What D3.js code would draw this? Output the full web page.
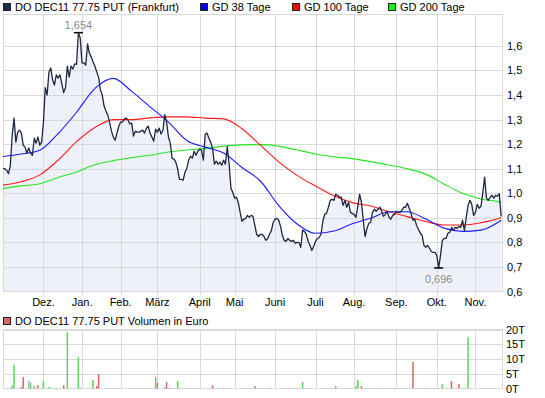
<html>
<head>
<script src="https://cdn.jsdelivr.net/npm/d3@7"></script>
<style>
  body { margin: 0; background: #fff; }
  text { font-family: "Liberation Sans", Arial, sans-serif; font-size: 11px; fill: #000; }
</style>
<script>

// exchange holidays (no trading) inside the shown period
const holidays = ["2010-12-24", "2010-12-31", "2011-04-22", "2011-04-25"];
const firstDay = "2010-11-01";
const lastDay = "2011-11-22";

const monthLabels = ["Dez.", "Jan.", "Feb.", "März", "April", "Mai", "Juni", "Juli", "Aug.", "Sep.", "Okt.", "Nov."];

// daily closes, one per trading day starting 2010-11-01
const closes = [
  1.10, 1.10, 1.094, 1.08, 1.114, 1.237, 1.306, 1.208, 1.249, 1.257,
  1.245, 1.196, 1.188, 1.163, 1.184, 1.163, 1.155, 1.224, 1.204, 1.229,
  1.196, 1.208, 1.29, 1.43, 1.40, 1.494, 1.51, 1.461, 1.441, 1.482,
  1.469, 1.482, 1.445, 1.41, 1.43, 1.518, 1.473, 1.518, 1.506, 1.527,
  1.525, 1.654, 1.633, 1.531, 1.531, 1.522, 1.608, 1.571, 1.555, 1.535,
  1.518, 1.494, 1.473, 1.42, 1.40, 1.355, 1.335, 1.318, 1.29, 1.253,
  1.229, 1.216, 1.245, 1.273, 1.29, 1.29, 1.302, 1.306, 1.298, 1.282,
  1.286, 1.233, 1.253, 1.249, 1.249, 1.253, 1.257, 1.245, 1.265, 1.273,
  1.245, 1.229, 1.212, 1.261, 1.249, 1.265, 1.241, 1.257, 1.32, 1.29,
  1.229, 1.204, 1.143, 1.139, 1.127, 1.10, 1.057, 1.057, 1.053, 1.086,
  1.102, 1.135, 1.151, 1.143, 1.171, 1.155, 1.171, 1.18, 1.176, 1.135,
  1.24, 1.245, 1.224, 1.208, 1.184, 1.118, 1.131, 1.118, 1.127, 1.114,
  1.135, 1.118, 1.19, 1.12, 1.02, 1.004, 0.98, 0.984, 0.963, 0.922,
  0.886, 0.894, 0.898, 0.91, 0.902, 0.91, 0.906, 0.869, 0.833, 0.824,
  0.833, 0.833, 0.824, 0.808, 0.816, 0.833, 0.849, 0.882, 0.894, 0.898,
  0.89, 0.865, 0.829, 0.808, 0.804, 0.816, 0.808, 0.804, 0.808, 0.796,
  0.80, 0.80, 0.78, 0.85, 0.845, 0.833, 0.804, 0.788, 0.767, 0.784,
  0.804, 0.816, 0.82, 0.833, 0.886, 0.914, 0.918, 0.943, 0.971, 0.976,
  0.971, 0.996, 0.992, 0.984, 0.984, 0.951, 0.971, 0.943, 0.963, 0.922,
  0.918, 0.914, 0.902, 0.947, 0.996, 0.963, 0.89, 0.824, 0.857, 0.878,
  0.882, 0.922, 0.935, 0.927, 0.935, 0.943, 0.927, 0.906, 0.914, 0.927,
  0.902, 0.894, 0.91, 0.914, 0.927, 0.922, 0.922, 0.931, 0.943, 0.943,
  0.959, 0.939, 0.918, 0.89, 0.894, 0.869, 0.853, 0.837, 0.829, 0.788,
  0.78, 0.788, 0.776, 0.763, 0.759, 0.759, 0.747, 0.696, 0.747, 0.808,
  0.816, 0.816, 0.837, 0.841, 0.861, 0.849, 0.861, 0.857, 0.865, 0.861,
  0.89, 0.849, 0.902, 0.951, 0.971, 0.955, 0.91, 0.922, 0.955, 0.939,
  0.947, 1.0, 1.066, 0.98, 0.971, 0.984, 0.992, 0.98, 0.992, 0.988,
  0.998, 0.906
];

// moving averages, read every 10 trading days
const gd38 = [
  ["2010-11-01", 1.15], ["2010-11-15", 1.16], ["2010-11-29", 1.175], ["2010-12-13", 1.243],
  ["2010-12-28", 1.33], ["2011-01-12", 1.427], ["2011-01-26", 1.468], ["2011-02-09", 1.415],
  ["2011-02-23", 1.352], ["2011-03-09", 1.29], ["2011-03-23", 1.215], ["2011-04-06", 1.188],
  ["2011-04-20", 1.164], ["2011-05-06", 1.105], ["2011-05-20", 1.05], ["2011-06-03", 0.95],
  ["2011-06-17", 0.875], ["2011-07-01", 0.837], ["2011-07-15", 0.846], ["2011-07-29", 0.876],
  ["2011-08-12", 0.898], ["2011-08-26", 0.925], ["2011-09-09", 0.925], ["2011-09-23", 0.895],
  ["2011-10-07", 0.858], ["2011-10-21", 0.845], ["2011-11-04", 0.85], ["2011-11-18", 0.885],
  ["2011-11-21", 0.89]
];
const gd100 = [
  ["2010-11-01", 1.033], ["2010-11-15", 1.047], ["2010-11-29", 1.075], ["2010-12-13", 1.135],
  ["2010-12-28", 1.21], ["2011-01-12", 1.268], ["2011-01-26", 1.30], ["2011-02-09", 1.30],
  ["2011-02-23", 1.307], ["2011-03-09", 1.311], ["2011-03-23", 1.311], ["2011-04-06", 1.306],
  ["2011-04-20", 1.303], ["2011-05-06", 1.263], ["2011-05-20", 1.196], ["2011-06-03", 1.128],
  ["2011-06-17", 1.073], ["2011-07-01", 1.03], ["2011-07-15", 0.99], ["2011-07-29", 0.962],
  ["2011-08-12", 0.948], ["2011-08-26", 0.925], ["2011-09-09", 0.905], ["2011-09-23", 0.885],
  ["2011-10-07", 0.871], ["2011-10-21", 0.871], ["2011-11-04", 0.88], ["2011-11-18", 0.898],
  ["2011-11-21", 0.901]
];
const gd200 = [
  ["2010-11-01", 1.019], ["2010-11-15", 1.03], ["2010-11-29", 1.039], ["2010-12-13", 1.064],
  ["2010-12-28", 1.087], ["2011-01-12", 1.116], ["2011-01-26", 1.133], ["2011-02-09", 1.145],
  ["2011-02-23", 1.155], ["2011-03-09", 1.168], ["2011-03-23", 1.176], ["2011-04-06", 1.183],
  ["2011-04-20", 1.192], ["2011-05-06", 1.197], ["2011-05-20", 1.198], ["2011-06-03", 1.192],
  ["2011-06-17", 1.176], ["2011-07-01", 1.16], ["2011-07-15", 1.149], ["2011-07-29", 1.141],
  ["2011-08-12", 1.129], ["2011-08-26", 1.115], ["2011-09-09", 1.10], ["2011-09-23", 1.078],
  ["2011-10-07", 1.037], ["2011-10-21", 1.0], ["2011-11-04", 0.977], ["2011-11-18", 0.965],
  ["2011-11-21", 0.963]
];

// volume in thousand euro
const volDates = [
  "2010-11-08", "2010-11-09", "2010-11-15", "2010-11-16", "2010-11-19", "2010-11-22", "2010-11-24",
  "2010-11-26", "2010-12-01", "2010-12-06", "2010-12-10", "2010-12-16", "2010-12-20", "2010-12-29",
  "2010-12-30", "2011-01-11", "2011-01-13", "2011-01-14", "2011-02-28", "2011-03-01", "2011-03-07",
  "2011-03-08", "2011-03-10", "2011-03-16", "2011-04-12", "2011-05-17", "2011-05-30", "2011-06-22",
  "2011-07-18", "2011-08-02", "2011-08-03", "2011-08-05", "2011-08-22", "2011-08-31", "2011-09-14",
  "2011-09-23", "2011-09-30", "2011-10-06", "2011-10-13", "2011-10-19", "2011-10-26"
];
const volAmounts = [
  1.0, 8.0, 0.5, 3.9, 2.7, 2.0, 0.8,
  1.1, 2.5, 0.5, 0.2, 1.1, 19.0, 10.7,
  0.3, 2.9, 0.8, 4.9, 3.9, 2.0, 0.5,
  2.2, 0.2, 2.5, 1.1, 0.8, 0.2, 2.2,
  0.8, 0.8, 2.9, 0.8, 0.2, 0.2, 9.0,
  0.2, 0.2, 1.5, 2.5, 1.5, 17.4
];
const volMoves = [
  "up", "up", "down", "down", "flat", "up", "up",
  "down", "up", "up", "up", "down", "up", "up",
  "down", "up", "down", "down", "up", "down", "up",
  "down", "down", "up", "down", "down", "up", "up",
  "up", "up", "up", "down", "up", "up", "down",
  "up", "up", "up", "down", "down", "up"
];

const priceTicks = [0.6, 0.7, 0.8, 0.9, 1.0, 1.1, 1.2, 1.3, 1.4, 1.5, 1.6];
const volTicks = [0, 5, 10, 15, 20];

const moveColor = {up: "#5fd35f", down: "#e06464", flat: "#b4b4c8"};
const gridColor = "#d9d9d9";

function deNum(v, digits) {
  return d3.format("." + digits + "f")(v).replace(".", ",");
}

function start() {
  const fmt = d3.timeFormat("%Y-%m-%d");
  const parse = d3.timeParse("%Y-%m-%d");
  const days = d3.timeDay.range(parse(firstDay), d3.timeDay.offset(parse(lastDay), 1))
      .filter(d => d.getDay() !== 0 && d.getDay() !== 6 && !holidays.includes(fmt(d)))
      .map(fmt);
  const dayIndex = new Map(days.map((d, i) => [d, i]));

  const svg = d3.select('body').append('svg')
      .attr('width', 545).attr('height', 398);

  const x = d3.scaleLinear().domain([0, days.length - 1]).range([3, 503]);
  const y = d3.scaleLinear().domain([0.6, 1.728]).range([291.5, 14.5]);
  const yv = d3.scaleLinear().domain([0, 20]).range([388.5, 329.5]);

  // month starts
  const monthIdx = [];
  days.forEach((d, i) => {
    if (i > 0 && d.slice(5, 7) !== days[i - 1].slice(5, 7)) monthIdx.push(i);
  });
  const px = i => Math.round(x(i)) + 0.5;

  // ---- price panel ----
  const price = svg.append('g');
  const closeData = closes.map((v, i) => [i, v]);

  price.append('path')
      .datum(closeData)
      .attr('fill', '#eef1fa')
      .attr('d', d3.area().x(d => x(d[0])).y0(y(0.6)).y1(d => y(d[1])));

  price.selectAll('.hgrid').data(priceTicks.slice(1)).enter().append('line')
      .attr('x1', 3).attr('x2', 503)
      .attr('y1', d => Math.round(y(d)) + 0.5).attr('y2', d => Math.round(y(d)) + 0.5)
      .attr('stroke', gridColor);
  price.selectAll('.vgrid').data(monthIdx).enter().append('line')
      .attr('x1', px).attr('x2', px)
      .attr('y1', 14.5).attr('y2', 295)
      .attr('stroke', gridColor);
  price.append('rect')
      .attr('x', 3.5).attr('y', 14.5).attr('width', 499).attr('height', 277)
      .attr('fill', 'none').attr('stroke', gridColor);

  const maLine = d3.line()
      .x(d => x(dayIndex.get(d[0])))
      .y(d => y(d[1]))
      .curve(d3.curveMonotoneX);
  [[gd200, '#22e622'], [gd100, '#ff1a1a'], [gd38, '#1a1aff']].forEach(([s, c]) => {
    price.append('path').datum(s)
        .attr('fill', 'none').attr('stroke', c).attr('stroke-width', 1.1)
        .attr('d', maLine);
  });

  price.append('path')
      .datum(closeData)
      .attr('fill', 'none')
      .attr('stroke', '#1c2742')
      .attr('stroke-width', 1.3)
      .attr('stroke-linejoin', 'round')
      .attr('d', d3.line().x(d => x(d[0])).y(d => y(d[1])));

  // max / min markers
  const maxI = d3.maxIndex(closes), minI = d3.minIndex(closes);
  price.append('line')
      .attr('x1', x(maxI) - 4.5).attr('x2', x(maxI) + 4.5)
      .attr('y1', y(closes[maxI])).attr('y2', y(closes[maxI]))
      .attr('stroke', '#000').attr('stroke-width', 1.5);
  price.append('text')
      .attr('x', x(maxI)).attr('y', y(closes[maxI]) - 3.5)
      .attr('text-anchor', 'middle').style('fill', '#8a8a8a')
      .text(deNum(closes[maxI], 3));
  price.append('line')
      .attr('x1', x(minI) - 4.5).attr('x2', x(minI) + 4.5)
      .attr('y1', y(closes[minI])).attr('y2', y(closes[minI]))
      .attr('stroke', '#000').attr('stroke-width', 1.5);
  price.append('rect')
      .attr('x', x(minI) - 16).attr('y', y(closes[minI]) + 6)
      .attr('width', 32).attr('height', 10)
      .attr('fill', '#f2f2f2');
  price.append('text')
      .attr('x', x(minI)).attr('y', y(closes[minI]) + 15)
      .attr('text-anchor', 'middle').style('fill', '#8a8a8a')
      .text(deNum(closes[minI], 3));

  price.selectAll('.ylab').data(priceTicks).enter().append('text')
      .attr('x', 507).attr('y', d => y(d) + 4)
      .text(d => deNum(d, 1));
  price.selectAll('.xlab').data(monthIdx).enter().append('text')
      .attr('x', d => x(d)).attr('y', 306)
      .attr('text-anchor', 'middle')
      .text((d, i) => monthLabels[i]);

  // legend
  const legend = [
    ["DO DEC11 77.75 PUT (Frankfurt)", '#1c2a52', 3],
    ["GD 38 Tage", '#0000ff', 200],
    ["GD 100 Tage", '#ff0000', 292],
    ["GD 200 Tage", '#00ff00', 388]
  ];
  legend.forEach(([t, c, lx]) => {
    svg.append('rect').attr('x', lx + 0.5).attr('y', 3.5).attr('width', 7).attr('height', 7)
        .attr('fill', c).attr('stroke', '#222');
    svg.append('text').attr('x', lx + 12).attr('y', 11).text(t);
  });

  // ---- volume panel ----
  const vol = svg.append('g');
  svg.append('rect').attr('x', 3.5).attr('y', 317.5).attr('width', 7).attr('height', 7)
      .attr('fill', '#e06464').attr('stroke', '#222');
  svg.append('text').attr('x', 15).attr('y', 325).text("DO DEC11 77.75 PUT Volumen in Euro");

  vol.selectAll('.hgrid').data(volTicks.slice(1)).enter().append('line')
      .attr('x1', 3).attr('x2', 503)
      .attr('y1', d => Math.round(yv(d)) + 0.5).attr('y2', d => Math.round(yv(d)) + 0.5)
      .attr('stroke', gridColor);
  vol.selectAll('.vgrid').data(monthIdx).enter().append('line')
      .attr('x1', px).attr('x2', px)
      .attr('y1', 329.5).attr('y2', 388.5)
      .attr('stroke', gridColor);
  vol.append('rect')
      .attr('x', 3.5).attr('y', 329.5).attr('width', 499).attr('height', 59)
      .attr('fill', 'none').attr('stroke', gridColor);

  vol.selectAll('.bar').data(volDates).enter().append('rect')
      .attr('x', d => x(dayIndex.get(d)) - 0.75)
      .attr('width', 1.5)
      .attr('y', (d, i) => yv(volAmounts[i]))
      .attr('height', (d, i) => yv(0) - yv(volAmounts[i]))
      .attr('fill', (d, i) => moveColor[volMoves[i]]);

  vol.selectAll('.vlab').data(volTicks).enter().append('text')
      .attr('x', 506).attr('y', d => yv(d) + 4)
      .text(d => d + "T");
}

document.addEventListener('DOMContentLoaded', () => start());
</script>
</head>
<body>
</body>
</html>
